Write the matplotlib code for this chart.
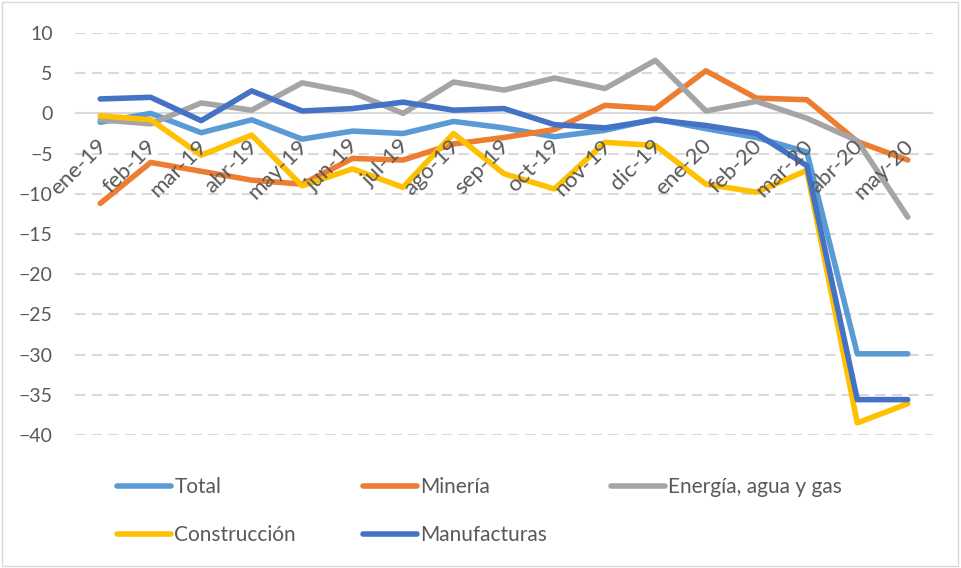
import matplotlib
matplotlib.use('Agg')
import matplotlib.pyplot as plt
from matplotlib.lines import Line2D
from matplotlib.patches import Rectangle

months = ['ene-19', 'feb-19', 'mar-19', 'abr-19', 'may-19', 'jun-19', 'jul-19', 'ago-19',
          'sep-19', 'oct-19', 'nov-19', 'dic-19', 'ene-20', 'feb-20', 'mar-20', 'abr-20', 'may-20']

total = [-1.1, 0.0, -2.4, -0.8, -3.2, -2.2, -2.5, -1.0, -1.8, -2.9, -2.1, -0.7, -1.9, -3.0, -4.8, -29.9, -29.9]
mineria = [-11.2, -6.1, -7.2, -8.3, -8.8, -5.6, -5.8, -3.8, -3.0, -2.0, 1.0, 0.6, 5.3, 1.9, 1.7, -3.5, -5.8]
energia = [-0.8, -1.3, 1.3, 0.4, 3.8, 2.6, 0.0, 3.9, 2.9, 4.4, 3.1, 6.6, 0.3, 1.5, -0.6, -3.4, -12.9]
construccion = [-0.3, -0.8, -5.2, -2.7, -9.0, -6.9, -9.2, -2.5, -7.5, -9.4, -3.6, -4.0, -8.8, -9.8, -7.1, -38.5, -36.1]
manufacturas = [1.8, 2.0, -0.9, 2.8, 0.3, 0.6, 1.4, 0.4, 0.6, -1.4, -1.8, -0.8, -1.5, -2.5, -6.5, -35.6, -35.6]

series = [
    ('Total', total, '#5B9BD5'),
    ('Minería', mineria, '#ED7D31'),
    ('Energía, agua y gas', energia, '#A5A5A5'),
    ('Construcción', construccion, '#FFC000'),
    ('Manufacturas', manufacturas, '#4472C4'),
]

plt.rcParams['font.family'] = ['Lato', 'DejaVu Sans']
text_color = '#595959'
grid_color = '#D9D9D9'

fig = plt.figure(figsize=(9.61, 5.68), dpi=100)
ax = fig.add_axes([75 / 961, 1 - 435 / 568, (933 - 75) / 961, (435 - 33) / 568])

x = list(range(len(months)))
for name, values, color in series:
    ax.plot(x, values, color=color, lw=4, solid_capstyle='round', solid_joinstyle='round', label=name)

ax.set_xlim(-0.5, len(months) - 0.5)
ax.set_ylim(-40, 10)
ax.set_yticks(range(-40, 11, 5))
for v in range(-40, 11, 5):
    if v == 0:
        ax.axhline(v, color=grid_color, lw=1.5, zorder=0)
    else:
        ax.axhline(v, color=grid_color, lw=1.5, ls=(0, (5, 3)), zorder=0)

for s in ax.spines.values():
    s.set_visible(False)
ax.tick_params(axis='y', length=0, labelsize=14, labelcolor=text_color, pad=16)
ax.set_xticks([])

# category labels sit just under the zero line, as in the Excel original
for i, m in enumerate(months):
    ax.annotate(m, xy=(i, 0), xytext=(7, -16), textcoords='offset points',
                rotation=45, ha='right', va='top', fontsize=16, color=text_color)

# legend laid out in equal-width columns like the original
cols = [[0, 3], [1, 4], [2]]
col_x = [117 / 961, 363 / 961, 611 / 961]
for cx, idxs in zip(col_x, cols):
    handles = [Line2D([], [], color=series[i][2], lw=4, solid_capstyle='round') for i in idxs]
    labels = [series[i][0] for i in idxs]
    fig.legend(handles, labels, loc='upper left', bbox_to_anchor=(cx, 1 - 477 / 568),
               frameon=False, fontsize=15, labelcolor=text_color, handlelength=2.6,
               handletextpad=0.15, labelspacing=1.35, borderaxespad=0, borderpad=0)

fig.patches.append(Rectangle((0.002, 0.003), 0.995, 0.993, transform=fig.transFigure,
                             fill=False, edgecolor=grid_color, lw=1))

fig.savefig('out.png', dpi=100)
